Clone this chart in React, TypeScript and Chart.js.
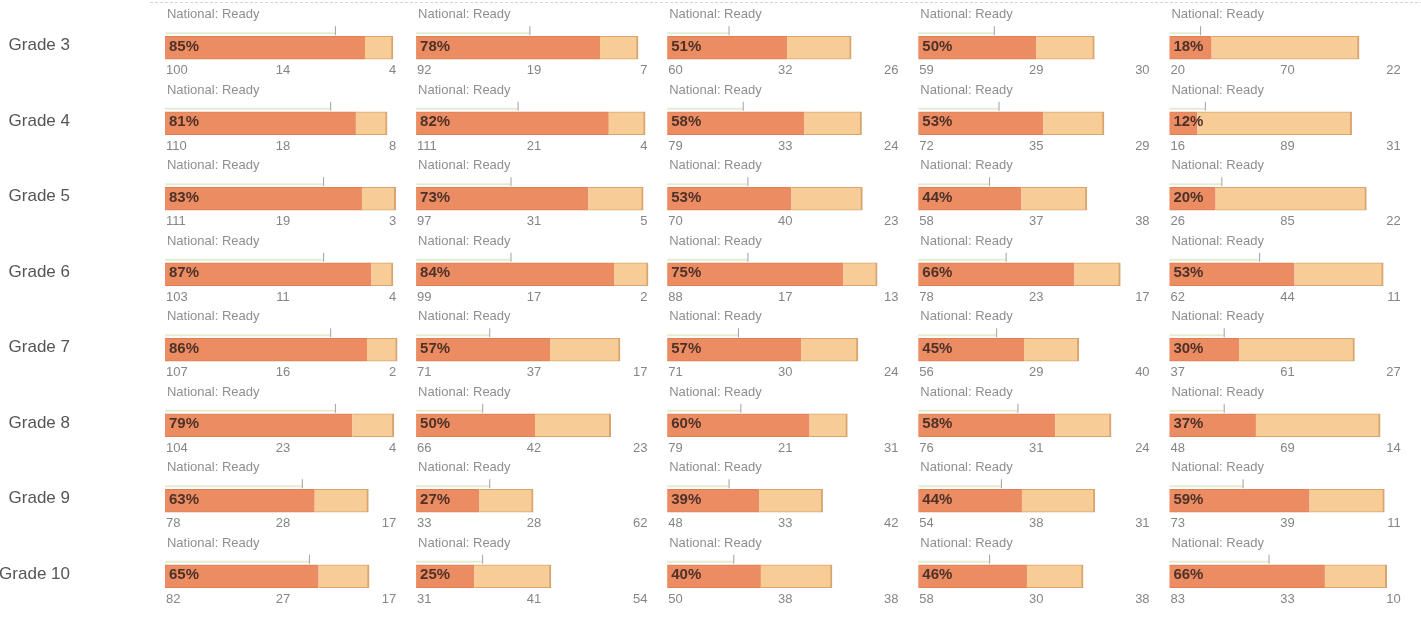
import { useEffect, useRef } from 'react';
import { Chart, registerables } from 'chart.js';

Chart.register(...registerables);

const GRADES = ['Grade 3', 'Grade 4', 'Grade 5', 'Grade 6', 'Grade 7', 'Grade 8', 'Grade 9', 'Grade 10'];

// one inner array per column (5 columns), one value per grade
const READY = [
  [100, 110, 111, 103, 107, 104, 78, 82],
  [92, 111, 97, 99, 71, 66, 33, 31],
  [60, 79, 70, 88, 71, 79, 48, 50],
  [59, 72, 58, 78, 56, 76, 54, 58],
  [20, 16, 26, 62, 37, 48, 73, 83],
];
const APPROACHING = [
  [14, 18, 19, 11, 16, 23, 28, 27],
  [19, 21, 31, 17, 37, 42, 28, 41],
  [32, 33, 40, 17, 30, 21, 33, 38],
  [29, 35, 37, 23, 29, 31, 38, 30],
  [70, 89, 85, 44, 61, 69, 39, 33],
];
const NOT_READY = [
  [4, 8, 3, 4, 2, 4, 17, 17],
  [7, 4, 5, 2, 17, 23, 62, 54],
  [26, 24, 23, 13, 24, 31, 42, 38],
  [30, 29, 38, 17, 40, 24, 31, 38],
  [22, 31, 22, 11, 27, 14, 11, 10],
];
const PERCENT = [
  [85, 81, 83, 87, 86, 79, 63, 65],
  [78, 82, 73, 84, 57, 50, 27, 25],
  [51, 58, 53, 75, 57, 60, 39, 40],
  [50, 53, 44, 66, 45, 58, 44, 46],
  [18, 12, 20, 53, 30, 37, 59, 66],
];
const NATIONAL = [
  [72, 70, 67, 67, 70, 72, 58, 61],
  [48, 43, 40, 40, 31, 28, 31, 28],
  [26, 32, 34, 34, 30, 31, 26, 28],
  [32, 34, 30, 37, 33, 42, 35, 30],
  [13, 15, 22, 38, 23, 23, 31, 42],
];

const COL_START = 69.9;
const COL_STEP = 106.4;
const X_MAX = 602.1;
const DARK = '#EC8C62';
const LIGHT = '#F7CC97';
const FONT = '"Liberation Sans", Arial, sans-serif';

const colOffset = (c: number) => COL_START + c * COL_STEP;
const total = (c: number, i: number) => READY[c][i] + APPROACHING[c][i] + NOT_READY[c][i];

const labelsPlugin = {
  id: 'cellLabels',
  afterDatasetsDraw(chart: any) {
    const { ctx, scales } = chart;
    const xs = scales.x;
    const ys = scales.y;
    ctx.save();
    // faint scan line at top
    ctx.strokeStyle = '#d4d4d4';
    ctx.lineWidth = 1;
    ctx.setLineDash([3, 2]);
    ctx.beginPath();
    ctx.moveTo(150, 2.5);
    ctx.lineTo(1421, 2.5);
    ctx.stroke();
    ctx.setLineDash([]);

    // grade labels
    ctx.fillStyle = '#555';
    ctx.font = `17px ${FONT}`;
    ctx.textAlign = 'right';
    ctx.textBaseline = 'middle';
    GRADES.forEach((g, i) => {
      ctx.fillText(g, 70, ys.getPixelForValue(i) - 2);
    });

    for (let c = 0; c < READY.length; c++) {
      const off = colOffset(c);
      const x0 = xs.getPixelForValue(off);
      for (let i = 0; i < GRADES.length; i++) {
        const y = ys.getPixelForValue(i);
        const barTop = y - 11.5;
        // national marker
        const xn = xs.getPixelForValue(off + NATIONAL[c][i]);
        ctx.strokeStyle = 'rgba(218,230,196,0.75)';
        ctx.lineWidth = 2;
        ctx.beginPath();
        ctx.moveTo(x0, barTop - 3);
        ctx.lineTo(xn, barTop - 3);
        ctx.stroke();
        ctx.strokeStyle = '#a0a0a0';
        ctx.lineWidth = 1;
        ctx.beginPath();
        ctx.moveTo(xn + 0.5, barTop - 10);
        ctx.lineTo(xn + 0.5, barTop - 1);
        ctx.stroke();

        ctx.textBaseline = 'middle';
        ctx.fillStyle = '#8f8f8f';
        ctx.font = `13px ${FONT}`;
        ctx.textAlign = 'left';
        ctx.fillText('National: Ready', x0 + 2, y - 33);

        ctx.fillStyle = '#4e3229';
        ctx.font = `bold 15px ${FONT}`;
        ctx.fillText(`${PERCENT[c][i]}%`, x0 + 4, y - 1);

        ctx.fillStyle = '#858585';
        ctx.font = `13px ${FONT}`;
        ctx.textAlign = 'left';
        ctx.fillText(String(READY[c][i]), x0 + 1, y + 23);
        ctx.textAlign = 'center';
        ctx.fillText(String(APPROACHING[c][i]), xs.getPixelForValue(off + 50), y + 23);
        ctx.textAlign = 'right';
        ctx.fillText(String(NOT_READY[c][i]), xs.getPixelForValue(off + 98), y + 23);
      }
    }
    ctx.restore();
  },
};

export default function App() {
  const ref = useRef<HTMLCanvasElement | null>(null);

  useEffect(() => {
    if (!ref.current) return;
    const datasets: any[] = [];
    for (let c = 0; c < READY.length; c++) {
      const off = colOffset(c);
      datasets.push({
        label: `Ready ${c + 1}`,
        data: GRADES.map((_, i) => [off, off + (READY[c][i] / total(c, i)) * 100]),
        backgroundColor: DARK,
        borderColor: '#DF7E55',
        borderWidth: { top: 1, bottom: 1, left: 0, right: 0 },
        borderSkipped: false,
        barThickness: 23,
        grouped: false,
      });
      datasets.push({
        label: `Approaching ${c + 1}`,
        data: GRADES.map((_, i) => [
          off + (READY[c][i] / total(c, i)) * 100,
          off + ((READY[c][i] + APPROACHING[c][i]) / total(c, i)) * 100,
        ]),
        backgroundColor: LIGHT,
        borderColor: '#D9A56F',
        borderWidth: { top: 1, bottom: 1, left: 0, right: 2 },
        borderSkipped: false,
        barThickness: 23,
        grouped: false,
      });
    }
    const chart = new Chart(ref.current, {
      type: 'bar',
      data: { labels: GRADES, datasets },
      options: {
        indexAxis: 'y',
        animation: false,
        responsive: false,
        devicePixelRatio: 1,
        layout: { padding: { top: 10, bottom: 8, left: 0, right: 0 } },
        plugins: { legend: { display: false }, tooltip: { enabled: false } },
        scales: {
          x: { type: 'linear', min: 0, max: X_MAX, display: false },
          y: { type: 'category', offset: true, display: false },
        },
      } as any,
      plugins: [labelsPlugin],
    });
    return () => chart.destroy();
  }, []);

  return (
    <div style={{ position: 'fixed', left: 0, top: 0, width: 1421, height: 622, background: '#fff' }}>
      <canvas ref={ref} width={1421} height={622} />
    </div>
  );
}
